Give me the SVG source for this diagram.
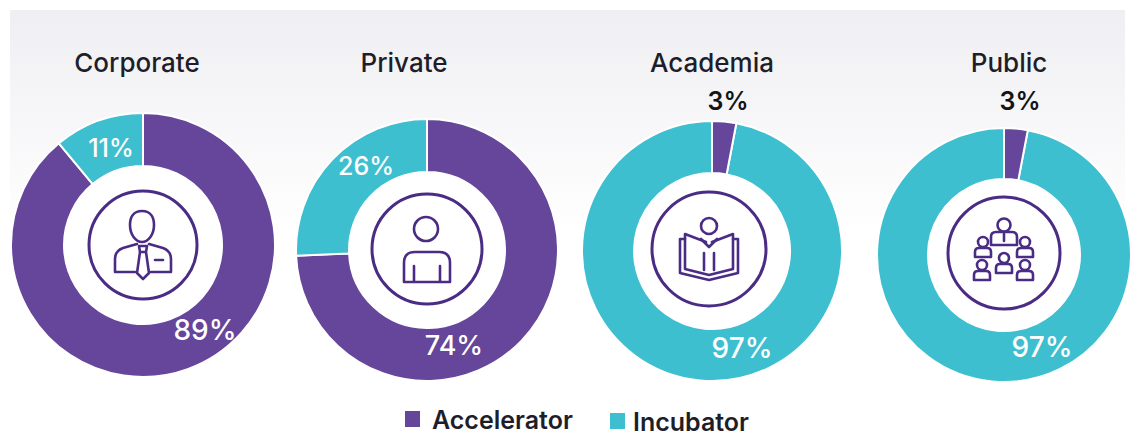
<svg xmlns="http://www.w3.org/2000/svg" width="1135" height="436" viewBox="0 0 1135 436">
<defs>
<linearGradient id="bg" x1="0" y1="0" x2="0" y2="1">
<stop offset="0" stop-color="#efeff3"/>
<stop offset="0.55" stop-color="#ffffff"/>
<stop offset="1" stop-color="#ffffff"/>
</linearGradient>
</defs>
<style>
.acc{fill:#65469a}
.inc{fill:#3dbfd0}
.seg{stroke:#ffffff;stroke-width:2;stroke-linejoin:miter}
.hole{fill:#ffffff}
.ring{fill:none;stroke:#4b2c85;stroke-width:3}
.ico{fill:none;stroke:#4b2c85;stroke-width:2.6;stroke-linejoin:round;stroke-linecap:round}
.title{font-family:Inter,'Liberation Sans',sans-serif;font-weight:500;font-size:26px;fill:#1e1e2a;text-anchor:middle}
.pct{font-family:Inter,'Liberation Sans',sans-serif;font-weight:500;fill:#ffffff;text-anchor:middle}
.pctd{font-family:Inter,'Liberation Sans',sans-serif;font-weight:600;font-size:25px;fill:#141414;text-anchor:middle}
.leg{font-family:Inter,'Liberation Sans',sans-serif;font-weight:600;font-size:25px;fill:#1e1e2a}
</style>
<rect x="0" y="0" width="1135" height="436" fill="#ffffff"/>
<rect x="10" y="10" width="1115" height="410" fill="url(#bg)"/>

<g id="corporate">
<text class="title" x="137" y="72">Corporate</text>
<path class="acc seg" d="M 143 113 A 132 132 0 1 1 58.86 143.29 L 92.65 184.13 A 79 79 0 1 0 143 166 Z"/>
<path class="inc seg" d="M 58.86 143.29 A 132 132 0 0 1 143 113 L 143 166 A 79 79 0 0 0 92.65 184.13 Z"/>
<circle class="hole" cx="143" cy="245" r="78"/>
<circle class="ring" cx="143" cy="245" r="54"/>
<g transform="translate(143 245)">
<path class="ico" d="M -1 -34 C 8 -34 11 -27 11 -20 C 11 -10 5 -3 -1 -3 C -7 -3 -13 -10 -13 -20 C -13 -27 -10 -34 -1 -34 Z"/>
<path class="ico" d="M -6 -1 L -20 3 Q -28 6 -28 14 L -28 27 L -8 27 M 6 -1 L 20 3 Q 28 6 28 14 L 28 27 L 8 27"/>
<path class="ico" d="M -4 1 L 4 1 L 3 7 L -3 7 Z M -3 7 L -6 28 L 0 34 L 6 28 L 3 7"/>
<path class="ico" d="M 12 15 L 20 15"/>
</g>
<text class="pct" x="111" y="157" font-size="25">11%</text>
<text class="pct" x="205" y="340" font-size="28">89%</text>
</g>

<g id="private">
<text class="title" x="404" y="72">Private</text>
<path class="acc seg" d="M 427 119 A 131 131 0 1 1 296.12 255.71 L 349.07 253.40 A 78 78 0 1 0 427 172 Z"/>
<path class="inc seg" d="M 296.12 255.71 A 131 131 0 0 1 427 119 L 427 172 A 78 78 0 0 0 349.07 253.40 Z"/>
<circle class="hole" cx="427" cy="250" r="77"/>
<circle class="ring" cx="427" cy="249" r="55"/>
<g transform="translate(427 249)">
<circle class="ico" cx="-1" cy="-20" r="12"/>
<path class="ico" d="M -23 33 L -23 14 Q -23 3 -12 3 L 12 3 Q 23 3 23 14 L 23 33 Z M -13 17 L -13 33 M 13 17 L 13 33"/>
</g>
<text class="pct" x="366" y="175" font-size="25">26%</text>
<text class="pct" x="454" y="355" font-size="27">74%</text>
</g>

<g id="academia">
<text class="title" x="712" y="72">Academia</text>
<path class="inc seg" d="M 736.36 123.30 A 130 130 0 1 1 712 121 L 712 173 A 78 78 0 1 0 726.62 174.38 Z"/>
<path class="acc seg" d="M 712 121 A 130 130 0 0 1 736.36 123.30 L 726.62 174.38 A 78 78 0 0 0 712 173 Z"/>
<circle class="hole" cx="711" cy="250" r="77"/>
<circle class="ring" cx="709" cy="249" r="57"/>
<g transform="translate(709 249)">
<circle class="ico" cx="0" cy="-23" r="8"/>
<path class="ico" d="M -8 -10 L 0 -2 L 8 -10"/>
<path class="ico" d="M -3 -7 L -24 -15 L -24 20 L 0 26 L 24 20 L 24 -15 L 3 -7"/>
<path class="ico" d="M -24 -10 L -29 -10 L -29 24 L 0 31 L 29 24 L 29 -10 L 24 -10"/>
<path class="ico" d="M -5 4 L -5 21 M 5 4 L 5 21"/>
</g>
<text class="pctd" x="728" y="110">3%</text>
<text class="pct" x="742" y="358" font-size="28">97%</text>
</g>

<g id="public">
<text class="title" x="1009" y="72">Public</text>
<path class="inc seg" d="M 1027.80 130.25 A 127 127 0 1 1 1004 128 L 1004 179 A 76 76 0 1 0 1018.24 180.35 Z"/>
<path class="acc seg" d="M 1004 128 A 127 127 0 0 1 1027.80 130.25 L 1018.24 180.35 A 76 76 0 0 0 1004 179 Z"/>
<circle class="hole" cx="1004" cy="256" r="75"/>
<circle class="ring" cx="1004" cy="253" r="56"/>
<g transform="translate(1004 253)">
<circle class="ico" cx="0" cy="-28" r="6.5"/>
<path class="ico" d="M -13 -8 L -13 -16 Q -13 -21 -8 -21 L 8 -21 Q 13 -21 13 -16 L 13 -8 Z M 0 -19 L 0 -12"/>
<circle class="ico" cx="-21" cy="-11" r="5"/>
<path class="ico" d="M -29 4 L -29 -1 Q -29 -5 -25 -5 L -17 -5 Q -13 -5 -13 -1 L -13 4 Z"/>
<circle class="ico" cx="21" cy="-11" r="5"/>
<path class="ico" d="M 13 4 L 13 -1 Q 13 -5 17 -5 L 25 -5 Q 29 -5 29 -1 L 29 4 Z"/>
<circle class="ico" cx="0" cy="5" r="5"/>
<path class="ico" d="M -8 20 L -8 15 Q -8 11 -4 11 L 4 11 Q 8 11 8 15 L 8 20 Z"/>
<circle class="ico" cx="-22" cy="12" r="5"/>
<path class="ico" d="M -30 27 L -30 22 Q -30 18 -26 18 L -18 18 Q -14 18 -14 22 L -14 27 Z"/>
<circle class="ico" cx="21" cy="12" r="5"/>
<path class="ico" d="M 13 27 L 13 22 Q 13 18 17 18 L 25 18 Q 29 18 29 22 L 29 27 Z"/>
</g>
<text class="pctd" x="1020" y="110">3%</text>
<text class="pct" x="1042" y="357" font-size="28">97%</text>
</g>

<g id="legend">
<rect class="acc" x="405" y="411" width="15" height="16"/>
<text class="leg" x="432" y="429">Accelerator</text>
<rect class="inc" x="610" y="413" width="15" height="16"/>
<text class="leg" x="633" y="431">Incubator</text>
</g>
<g id="connectors"/>
</svg>
